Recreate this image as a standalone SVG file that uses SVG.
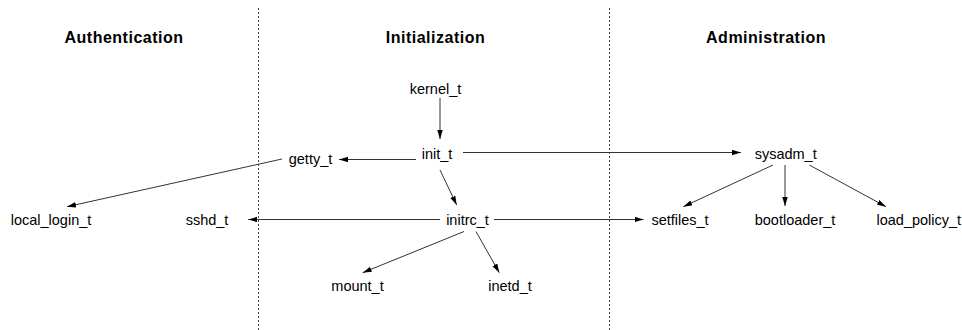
<svg xmlns="http://www.w3.org/2000/svg" width="962" height="330" viewBox="0 0 962 330">
<style>
.title{font-family:"Liberation Sans",Arial,sans-serif;font-size:16px;font-weight:bold;letter-spacing:0.5px;fill:#000;text-anchor:middle}
.lbl{font-family:"Liberation Sans",Arial,sans-serif;font-size:14.5px;fill:#000;text-anchor:middle}
.sep{stroke:#444;stroke-width:1;stroke-dasharray:2,2;fill:none}
.edge{stroke:#333;stroke-width:1;fill:none;marker-end:url(#arr)}
</style>
<defs>
<marker id="arr" markerUnits="userSpaceOnUse" markerWidth="10" markerHeight="6" refX="9" refY="2.75" orient="auto">
<path d="M0,0 L9,2.75 L0,5.5 z" fill="#000"/>
</marker>
</defs>
<rect width="962" height="330" fill="#fff"/>
<g id="separators">
<line class="sep" x1="258.5" y1="8" x2="258.5" y2="330"/>
<line class="sep" x1="609.5" y1="8" x2="609.5" y2="330"/>
</g>
<g id="titles">
<text class="title" x="124" y="43">Authentication</text>
<text class="title" x="435.5" y="43">Initialization</text>
<text class="title" x="766" y="43">Administration</text>
</g>
<g id="connectors">
<line class="edge" x1="440" y1="98" x2="440" y2="139"/>
<line class="edge" x1="416" y1="159.5" x2="339" y2="159.5"/>
<line class="edge" x1="463" y1="152.5" x2="741" y2="152.5"/>
<line class="edge" x1="282" y1="159" x2="67" y2="206.7"/>
<line class="edge" x1="440" y1="170" x2="456.7" y2="205"/>
<line class="edge" x1="440" y1="219.5" x2="248.3" y2="219.5"/>
<line class="edge" x1="494" y1="219.5" x2="643.5" y2="219.5"/>
<line class="edge" x1="464" y1="231.5" x2="362.7" y2="272.7"/>
<line class="edge" x1="476" y1="231.5" x2="499.3" y2="272.7"/>
<line class="edge" x1="773" y1="165" x2="683.3" y2="206.7"/>
<line class="edge" x1="785" y1="165" x2="785" y2="206"/>
<line class="edge" x1="809.3" y1="165" x2="886" y2="206.7"/>
</g>
<g id="kernel_t"><text class="lbl" x="435.5" y="94">kernel_t</text></g>
<g id="init_t"><text class="lbl" x="437" y="159">init_t</text></g>
<g id="getty_t"><text class="lbl" x="310.5" y="164">getty_t</text></g>
<g id="sysadm_t"><text class="lbl" x="785.7" y="159">sysadm_t</text></g>
<g id="local_login_t"><text class="lbl" x="51" y="225">local_login_t</text></g>
<g id="sshd_t"><text class="lbl" x="207" y="225">sshd_t</text></g>
<g id="initrc_t"><text class="lbl" x="467.5" y="225">initrc_t</text></g>
<g id="setfiles_t"><text class="lbl" x="680" y="225">setfiles_t</text></g>
<g id="bootloader_t"><text class="lbl" x="795" y="225">bootloader_t</text></g>
<g id="load_policy_t"><text class="lbl" x="918.8" y="225">load_policy_t</text></g>
<g id="mount_t"><text class="lbl" x="357.5" y="291">mount_t</text></g>
<g id="inetd_t"><text class="lbl" x="510" y="291">inetd_t</text></g>
</svg>
